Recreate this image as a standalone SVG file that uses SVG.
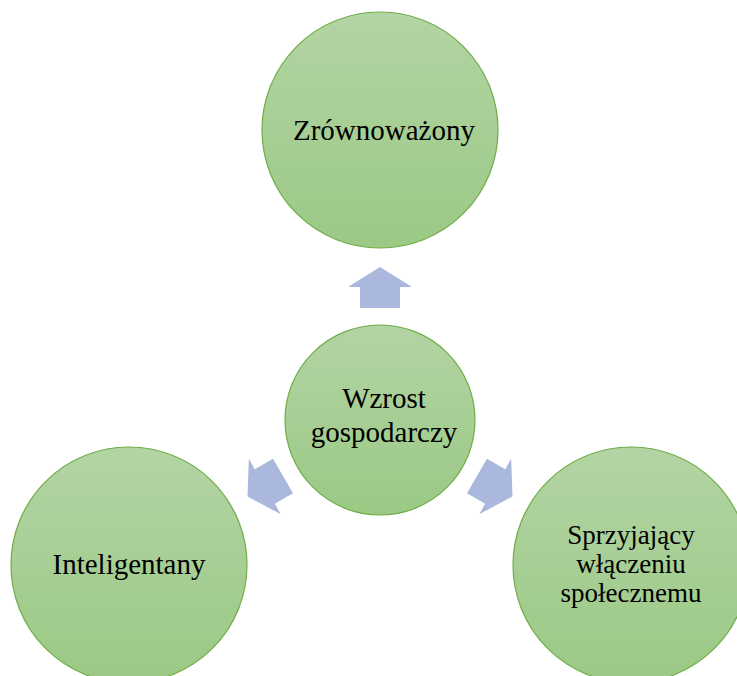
<svg xmlns="http://www.w3.org/2000/svg" width="737" height="676" viewBox="0 0 737 676">
  <defs>
    <linearGradient id="green" x1="0" y1="0" x2="0" y2="1">
      <stop offset="0" stop-color="#b3d4a4"/>
      <stop offset="1" stop-color="#9bc985"/>
    </linearGradient>
    <polygon id="arrow" points="0,-153 32,-133 20,-133 20,-112 -20,-112 -20,-133 -32,-133"/>
  </defs>
  <style>
    .node { fill: url(#green); stroke: #70ad47; stroke-width: 1.2; }
    .label { font-family: "Liberation Serif", "Times New Roman", serif; font-size: 29px; fill: #000; text-anchor: middle; }
    .small { font-size: 27px; }
    .arrow { fill: #abb8de; }
  </style>
  <rect width="737" height="676" fill="#fff"/>

  <g id="connectors" class="arrow">
    <use href="#arrow" transform="translate(380,420)"/>
    <use href="#arrow" transform="translate(380,420) rotate(120)"/>
    <use href="#arrow" transform="translate(380,420) rotate(-120)"/>
  </g>

  <g id="node-top">
    <circle class="node" cx="380" cy="130" r="118"/>
    <text class="label" x="384" y="140">Zrównoważony</text>
  </g>

  <g id="node-center">
    <circle class="node" cx="380" cy="420" r="95"/>
    <text class="label" x="384" y="408">Wzrost</text>
    <text class="label" x="384" y="442">gospodarczy</text>
  </g>

  <g id="node-left">
    <circle class="node" cx="129" cy="565" r="118"/>
    <text class="label" x="129" y="574">Inteligentany</text>
  </g>

  <g id="node-right">
    <circle class="node" cx="631" cy="565" r="118"/>
    <text class="label small" x="631" y="544">Sprzyjający</text>
    <text class="label small" x="631" y="573">włączeniu</text>
    <text class="label small" x="631" y="602">społecznemu</text>
  </g>
</svg>
